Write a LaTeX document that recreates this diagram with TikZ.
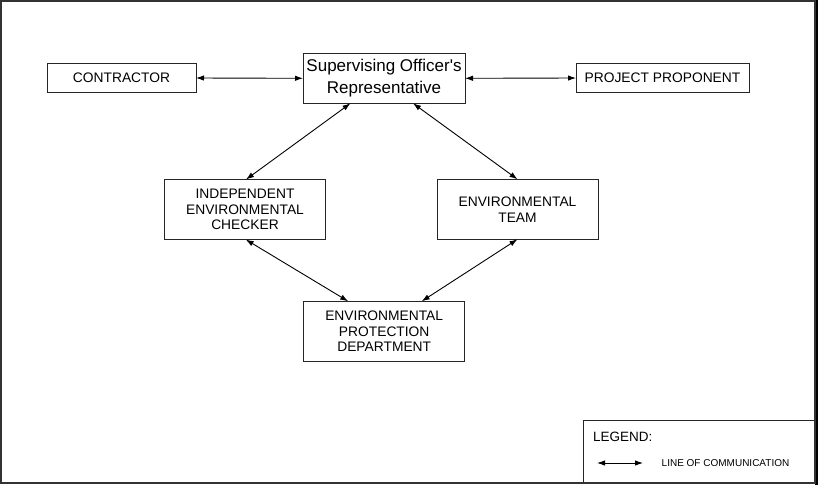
\documentclass[tikz,border=0pt]{standalone}
\usepackage{fontspec}
\setmainfont{Liberation Sans}
\usetikzlibrary{arrows.meta}
\begin{document}
\begin{tikzpicture}[x=1pt,y=-1pt,
  box/.style={draw=black!85,line width=0.9pt,inner sep=0pt,outer sep=0pt,align=center,font=\fontsize{13.8}{15.8}\selectfont},
  comm/.style={line width=0.9pt,{Latex[length=8pt,width=5.5pt]}-{Latex[length=8pt,width=5.5pt]}}
]
\useasboundingbox (0,0) rectangle (818,485);
% outer frame
\fill[black] (815,0) rectangle (818,485);
\draw[black!80,line width=1.8pt] (0.9,0.9) rectangle (815,483.3);
% boxes
\node[box,minimum width=149pt,minimum height=29.5pt] (contractor) at (121.5,78) {CONTRACTOR};
\node[box,minimum width=162pt,minimum height=50pt,font=\fontsize{17}{21.5}\selectfont] (sor) at (384,78.3) {Supervising Officer\textquotesingle s\\Representative};
\node[box,minimum width=173pt,minimum height=29.5pt] (proponent) at (662.5,78) {PROJECT PROPONENT};
\node[box,minimum width=161pt,minimum height=60pt] (iec) at (245,209.5) {INDEPENDENT\\ENVIRONMENTAL\\CHECKER};
\node[box,minimum width=161pt,minimum height=60pt] (team) at (517.5,209.3) {ENVIRONMENTAL\\TEAM};
\node[box,minimum width=161pt,minimum height=60pt] (epd) at (384.2,331.3) {ENVIRONMENTAL\\PROTECTION\\DEPARTMENT};
% connectors
\draw[comm] (contractor.east) -- (sor.west);
\draw[comm] (sor.east) -- (proponent.west);
\draw[comm] ([xshift=-33.5pt]sor.south) -- ([xshift=1pt]iec.north);
\draw[comm] ([xshift=29pt]sor.south) -- (team.north);
\draw[comm] ([xshift=0.7pt]iec.south) -- ([xshift=-36pt]epd.north);
\draw[comm] (team.south) -- ([xshift=37.5pt]epd.north);
% legend
\draw[black!85,line width=0.9pt] (815,420) -- (583,420) -- (583,483.3);
\node[anchor=west,inner sep=0pt,font=\fontsize{13.5}{16}\selectfont] (legendtitle) at (593,436.5) {LEGEND:};
\coordinate (la) at (597,463);
\coordinate (lb) at (643,463);
\draw[comm] (la) -- (lb);
\node[anchor=west,inner sep=0pt,font=\fontsize{10}{12}\selectfont] (legendtext) at (661.5,463) {LINE OF COMMUNICATION};
\end{tikzpicture}
\end{document}
